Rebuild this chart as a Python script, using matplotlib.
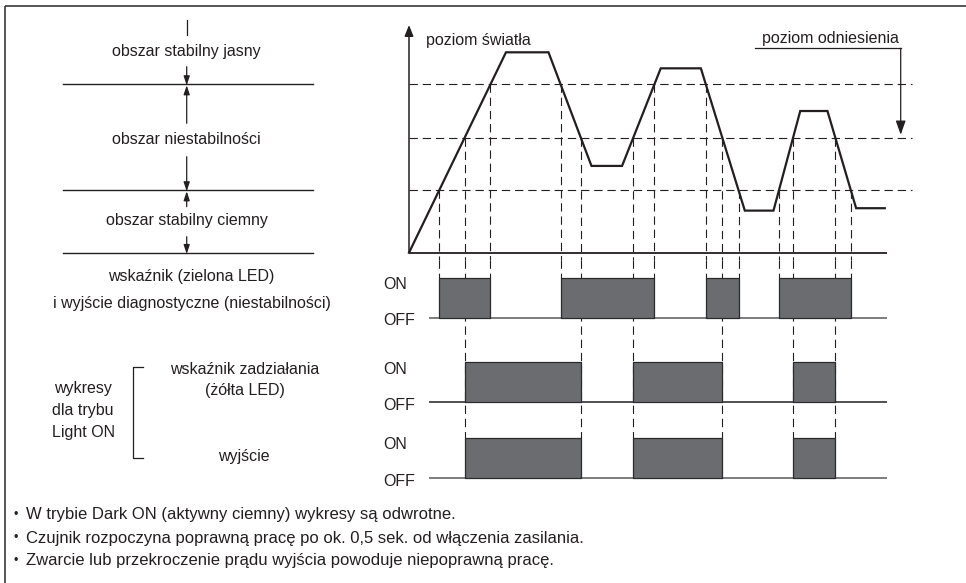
import numpy as np
import matplotlib
matplotlib.use("Agg")
import matplotlib.pyplot as plt
from matplotlib.transforms import blended_transform_factory

plt.rcParams['font.family'] = ['Liberation Sans Narrow', 'Liberation Sans', 'DejaVu Sans']
plt.rcParams['lines.scale_dashes'] = False

# ---------------- data ----------------
# light level waveform (time units, level in % of full scale)
wave_t = [0, 20.3, 29.2, 38.2, 44.6, 52.7, 61.1, 70.3, 76.3, 81.9, 87.6, 93.6, 99.6]
wave_level = [0, 100, 100, 43.3, 43.3, 92, 92, 21, 21, 70.7, 70.7, 22.2, 22.2]
level_upper = 84.0      # upper bound of unstable zone
level_ref = 57.4        # reference level (poziom odniesienia)
level_lower = 31.1      # lower bound of unstable zone

zone_labels = ["obszar stabilny jasny", "obszar niestabilności", "obszar stabilny ciemny"]
row_labels_on = "ON"
row_labels_off = "OFF"
notes = ["W trybie Dark ON (aktywny ciemny) wykresy są odwrotne.",
         "Czujnik rozpoczyna poprawną pracę po ok. 0,5 sek. od włączenia zasilania.",
         "Zwarcie lub przekroczenie prądu wyjścia powoduje niepoprawną pracę."]


def crossings(t, v, th):
    out = []
    for i in range(len(t) - 1):
        a, b = v[i] - th, v[i + 1] - th
        if a * b < 0:
            out.append(t[i] + (th - v[i]) * (t[i + 1] - t[i]) / (v[i + 1] - v[i]))
    return out


cr_upper = crossings(wave_t, wave_level, level_upper)
cr_lower = crossings(wave_t, wave_level, level_lower)
cr_ref = crossings(wave_t, wave_level, level_ref)

unstable_edges = sorted(cr_upper + cr_lower)
unstable_pulses = list(zip(unstable_edges[0::2], unstable_edges[1::2]))
ref_edges = sorted(cr_ref)
on_pulses = list(zip(ref_edges[0::2], ref_edges[1::2]))

# ---------------- figure ----------------
W, H = 966, 583
fig = plt.figure(figsize=(W / 100, H / 100), dpi=100)
ax0 = fig.add_axes([0, 0, 1, 1])
ax0.set_xlim(0, W)
ax0.set_ylim(H, 0)
ax0.axis('off')

# px geometry for waveform axes
SX, SY = 4.777, 2.004     # px per unit
X0, Y0 = 409, 252.7       # px of origin
wl, wr, wt, wb = 409, 930, 20, 260
axw = fig.add_axes([wl / W, 1 - wb / H, (wr - wl) / W, (wb - wt) / H])
axw.set_xlim(0, (wr - X0) / SX)
axw.set_ylim((Y0 - wb) / SY, (Y0 - wt) / SY)
axw.axis('off')

rb = 490
axr = fig.add_axes([wl / W, 1 - rb / H, (wr - wl) / W, (rb - wb) / H], sharex=axw)
axr.set_ylim(rb, wb)
axr.axis('off')

txt_kw = dict(fontsize=11.5, color='#231f20')
note_kw = dict(fontsize=12, color='#231f20')
dash = (0, (6, 3.5))
dcol = '#231f20'

# frame (top + left)
ax0.plot([5, W], [6, 6], color='#3a3a3a', lw=1.2, solid_capstyle='butt')
ax0.plot([5, 5], [6, H], color='#3a3a3a', lw=1.2, solid_capstyle='butt')

# ---- waveform ----
t_end = (886.7 - X0) / SX
axw.plot([0, t_end], [0, 0], color='#231f20', lw=1.3, solid_capstyle='butt', clip_on=False)
axw.annotate('', xy=(0, (Y0 - 25) / SY), xytext=(0, 0),
             arrowprops=dict(arrowstyle='-|>,head_length=0.55,head_width=0.22',
                             mutation_scale=12, lw=1.1, color='#231f20',
                             shrinkA=0, shrinkB=0))
axw.plot(wave_t, wave_level, color='#231f20', lw=1.6, solid_joinstyle='miter', clip_on=False)

t_dash_end = (912.3 - X0) / SX
for th in (level_upper, level_ref, level_lower):
    axw.plot([0, t_dash_end], [th, th], color=dcol, lw=0.8, ls=dash, clip_on=False)

row_top = [277.7, 362.3, 437.7]
row_base = [317.7, 402.3, 478.3]

# vertical dashed guides
ylow = axw.get_ylim()[0]
for tc in cr_upper + cr_lower:
    th = level_upper if tc in cr_upper else level_lower
    axw.plot([tc, tc], [th, ylow], color=dcol, lw=0.8, ls=dash, clip_on=False)
    axr.plot([tc, tc], [wb, row_top[0]], color=dcol, lw=0.8, ls=dash, clip_on=False)
for tc in cr_ref:
    axw.plot([tc, tc], [level_ref, ylow], color=dcol, lw=0.8, ls=dash, clip_on=False)
    axr.plot([tc, tc], [wb, row_top[2]], color=dcol, lw=0.8, ls=dash, clip_on=False)

# ---- timing rows ----
t_row_start = (429 - X0) / SX
base_cols = ['#7d7d7d', '#231f20', '#7d7d7d']
base_lw = [1.4, 1.1, 1.4]
rows = [unstable_pulses, on_pulses, on_pulses]
for i, pulses in enumerate(rows):
    axr.plot([t_row_start, t_end], [row_base[i], row_base[i]], color=base_cols[i],
             lw=base_lw[i], solid_capstyle='butt', zorder=2)
    for a, b in pulses:
        axr.fill_between([a, b], row_base[i], row_top[i], facecolor='#6b6c70',
                         edgecolor='#2b2b2b', lw=0.9, zorder=3)
    ax0.text(383, row_top[i] + 7, row_labels_on, ha='left', va='center', **txt_kw)
    ax0.text(383, row_base[i] + 3, row_labels_off, ha='left', va='center', **txt_kw)

# ---- labels on waveform ----
ax0.text(425.7, 40, "poziom światła", ha='left', va='center', **txt_kw)
ax0.text(761.7, 38.3, "poziom odniesienia", ha='left', va='center', **txt_kw)
ax0.plot([755, 900.7], [48.3, 48.3], color='#231f20', lw=0.9)
ref_px = Y0 - level_ref * SY
ax0.annotate('', xy=(900.7, ref_px - 3), xytext=(900.7, 48.3),
             arrowprops=dict(arrowstyle='-|>,head_length=0.7,head_width=0.25',
                             mutation_scale=12, lw=0.9, color='#231f20',
                             shrinkA=0, shrinkB=0))

# ---- left zone diagram ----
btr = blended_transform_factory(ax0.transData, axw.transData)
for lv in (level_upper, level_lower, 0):
    ax0.plot([63.3, 313.3], [lv, lv], color='#231f20', lw=1.0, transform=btr)

ax_x = 186.7
ax0.plot([ax_x, ax_x], [20, 35], color='#231f20', lw=0.9)
arrow_kw = dict(arrowstyle='-|>,head_length=0.6,head_width=0.2', mutation_scale=9,
                lw=0.9, color='#231f20', shrinkA=0, shrinkB=0)
for y_from, y_to in [(66.7, 85.3), (123.3, 85.3), (156.7, 191.3), (206.7, 191.3), (236.7, 254)]:
    ax0.annotate('', xy=(ax_x, y_to), xytext=(ax_x, y_from), arrowprops=arrow_kw)

ax0.text(ax_x, 51.7, zone_labels[0], ha='center', va='center', **txt_kw)
ax0.text(ax_x, 140, zone_labels[1], ha='center', va='center', **txt_kw)
ax0.text(ax_x, 220, zone_labels[2], ha='center', va='center', **txt_kw)

ax0.text(191.7, 276.7, "wskaźnik (zielona LED)", ha='center', va='center', **txt_kw)
ax0.text(191.7, 303.3, "i wyjście diagnostyczne (niestabilności)", ha='center', va='center', **txt_kw)

for yy, s in zip([388, 410, 432], ["wykresy", "dla trybu", "Light ON"]):
    ax0.text(83, yy, s, ha='center', va='center', **txt_kw)
ax0.plot([143.3, 133.3, 133.3, 143.3], [367.3, 367.3, 458.3, 458.3], color='#231f20', lw=0.9)
ax0.text(245, 370, "wskaźnik zadziałania", ha='center', va='center', **txt_kw)
ax0.text(245, 390, "(żółta LED)", ha='center', va='center', **txt_kw)
ax0.text(244, 456.7, "wyjście", ha='center', va='center', **txt_kw)

# ---- notes ----
for yy, s in zip([514.6, 538, 561], notes):
    ax0.text(15.4, yy, "•", ha='center', va='center', fontsize=9, color='#231f20')
    ax0.text(26, yy, s, ha='left', va='center', **note_kw)

fig.savefig("out.png", dpi=100, facecolor='white')
